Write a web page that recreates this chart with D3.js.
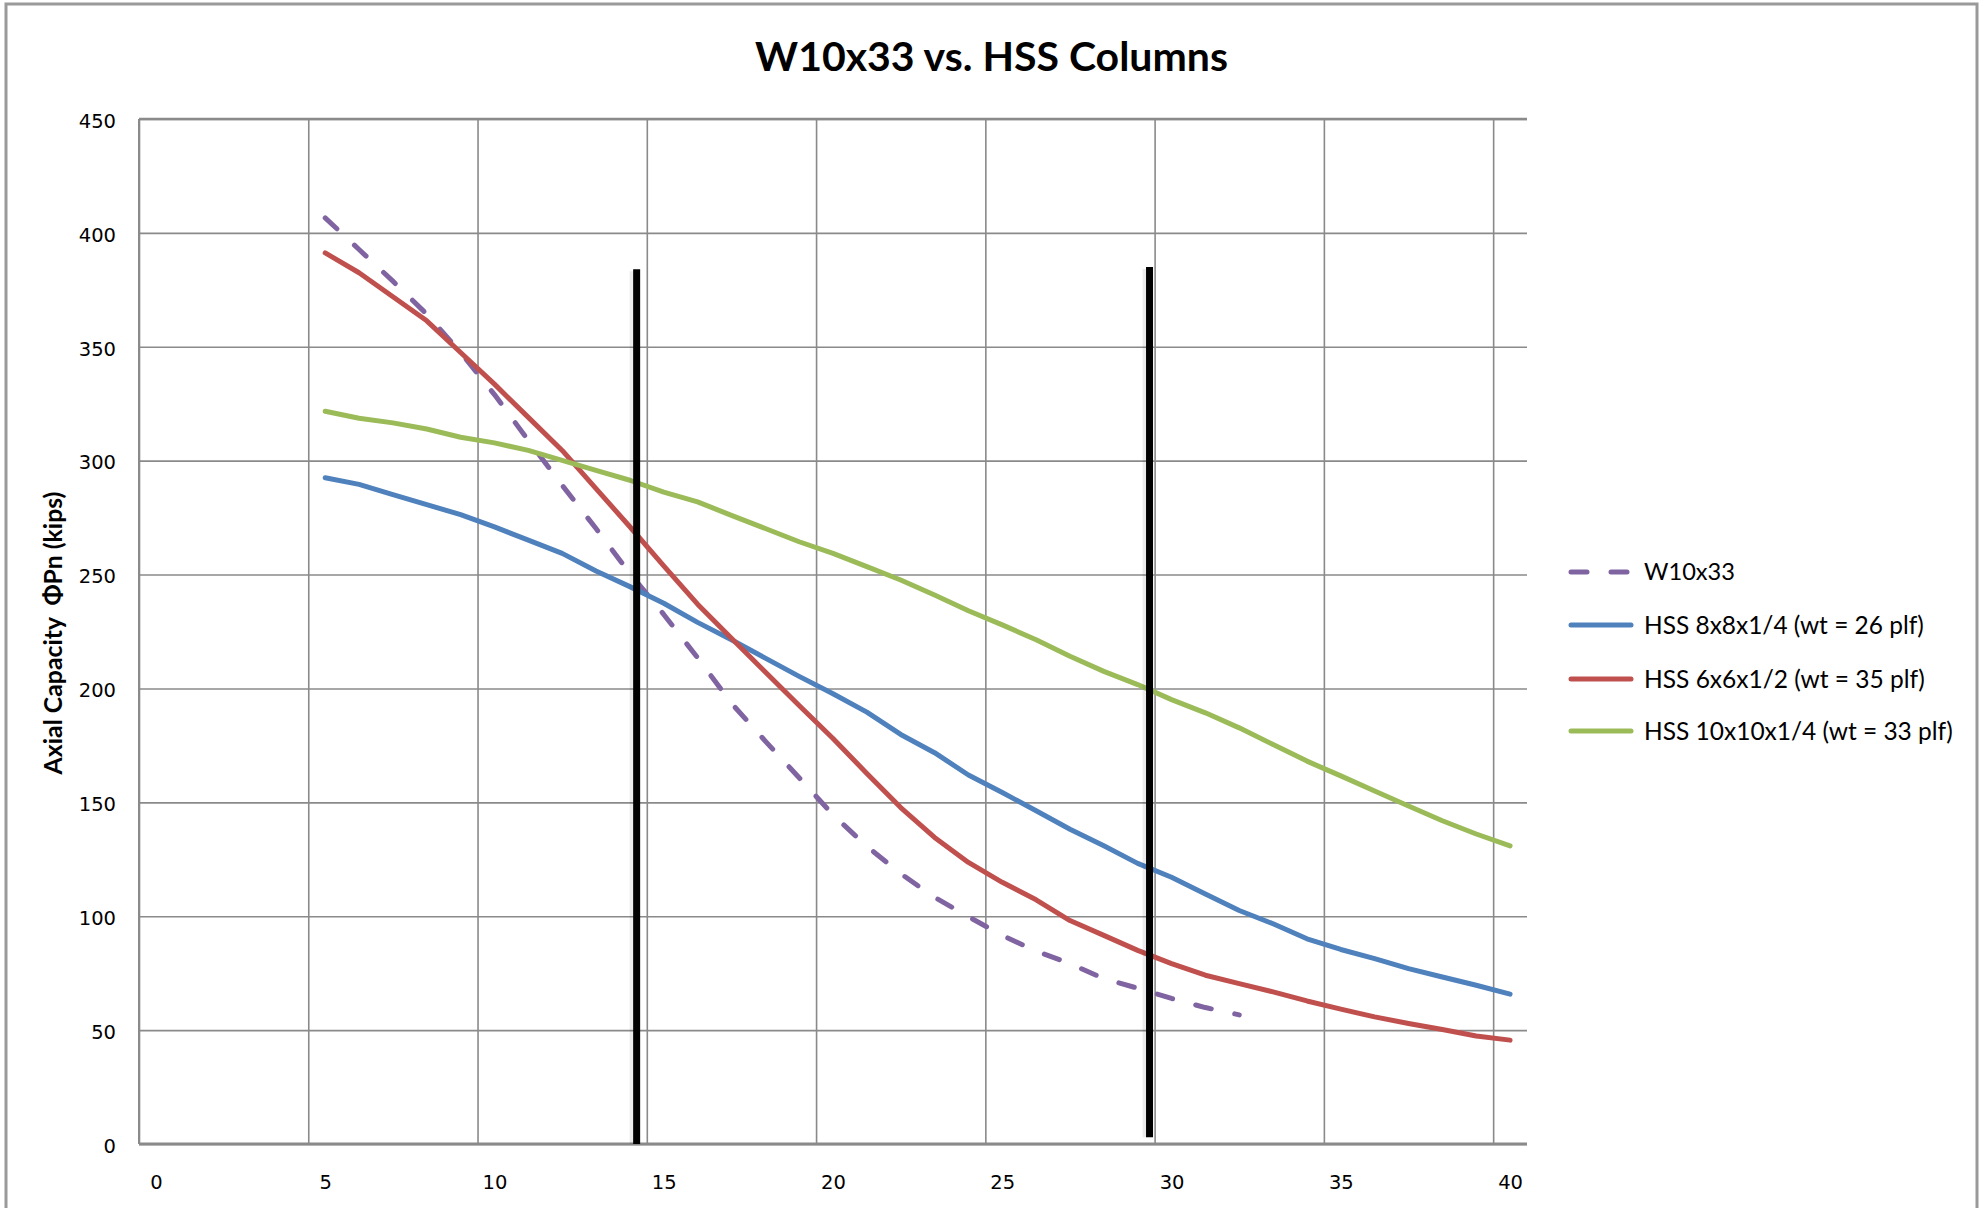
<!DOCTYPE html>
<html>
<head>
<meta charset="utf-8">
<script src="https://cdn.jsdelivr.net/npm/d3@7"></script>
<style>
  html, body { margin: 0; padding: 0; background: #ffffff; }
  svg { display: block; }
</style>
</head>
<body>
<svg id="chart" width="1984" height="1208"></svg>
<script>
// ---------------- DATA ----------------
const chartTitle = "W10x33 vs. HSS Columns";
const yAxisTitle = "Axial Capacity  \u03A6Pn (kips)";
const xTickLabels = [0, 5, 10, 15, 20, 25, 30, 35, 40];
const yTickLabels = [0, 50, 100, 150, 200, 250, 300, 350, 400, 450];

const seriesNames = [
  "W10x33",
  "HSS 8x8x1/4 (wt = 26 plf)",
  "HSS 6x6x1/2 (wt = 35 plf)",
  "HSS 10x10x1/4 (wt = 33 plf)"
];

// categories (unbraced length, ft) for each series
const w10Lengths = d3.range(5, 33);   // 5 .. 32
const hssLengths = d3.range(5, 41);   // 5 .. 40

const w10x33 = [406.6, 392.7, 378.8, 364.3, 347.5, 329.0, 308.9, 289.2, 270.2, 250.5,
  232.5, 213.5, 193.5, 176.9, 160.8, 144.5, 130.7, 118.7, 108.3, 99.8,
  91.6, 84.7, 79.2, 72.6, 68.4, 63.9, 59.9, 56.7];

const hss8x8 = [292.5, 289.6, 285.1, 280.7, 276.3, 270.9, 265.1, 259.3, 251.6, 244.7,
  237.4, 229.0, 221.4, 213.3, 205.3, 197.7, 189.6, 179.8, 171.8, 162.0,
  154.3, 146.3, 138.2, 130.9, 123.2, 117.1, 109.8, 102.5, 96.7, 90.1,
  85.4, 81.4, 77.0, 73.3, 69.7, 65.8];

const hss6x6 = [391.2, 382.5, 372.0, 361.4, 347.5, 333.6, 319.0, 304.5, 287.7, 271.0,
  253.8, 237.0, 222.0, 207.2, 192.5, 178.0, 162.7, 147.7, 134.6, 123.6,
  114.9, 107.2, 98.1, 91.6, 85.0, 79.2, 74.1, 70.4, 66.8, 62.8,
  59.2, 55.8, 52.9, 50.3, 47.4, 45.6];

const hss10x10 = [321.7, 318.6, 316.6, 313.9, 310.3, 307.8, 304.5, 300.1, 295.7, 291.4,
  286.2, 281.9, 276.0, 270.2, 264.4, 259.3, 253.5, 247.6, 241.0, 234.1,
  227.9, 221.4, 214.1, 207.5, 201.7, 195.1, 189.3, 182.7, 175.4, 168.1,
  161.6, 155.0, 148.4, 141.9, 136.1, 130.9];

// hand-drawn black vertical marker lines (position in category units, value range)
const markerX = [14.2, 29.35];
const markerTop = [384, 385];
const markerBottom = [0, 3];

// ---------------- LAYOUT ----------------
const svg = d3.select("#chart");
const plot = { left: 139, right: 1527, top: 119, bottom: 1144 };

const x = d3.scaleLinear().domain([-0.5, 40.5]).range([plot.left, plot.right]);
const y = d3.scaleLinear().domain([0, 450]).range([plot.bottom, plot.top]);

const colors = ["#8064A2", "#4F81BD", "#C0504D", "#9BBB59"];
const gridColor = "#8a8a8a";
const tickFont = "'DejaVu Sans', Verdana, sans-serif";
const textFont = "Lato, 'Noto Sans', 'Open Sans', sans-serif";

function fitWidth(sel, target) {
  const len = sel.node().getComputedTextLength();
  const fs = parseFloat(sel.attr("font-size"));
  sel.attr("font-size", fs * target / len);
}

// outer chart frame
svg.append("rect")
  .attr("x", 6).attr("y", 4)
  .attr("width", 1971).attr("height", 1230)
  .attr("fill", "#ffffff")
  .attr("stroke", "#9a9a9a").attr("stroke-width", 3);

// title
const title = svg.append("text")
  .attr("x", (755 + 1228) / 2).attr("y", 71)
  .attr("text-anchor", "middle")
  .attr("font-family", textFont).attr("font-weight", 700)
  .attr("font-size", 40).attr("fill", "#000")
  .text(chartTitle);
fitWidth(title, 473);

// horizontal gridlines
const yGrid = d3.axisLeft(y).tickValues(yTickLabels).tickSize(-(plot.right - plot.left)).tickFormat("");
svg.append("g")
  .attr("transform", `translate(${plot.left},0)`)
  .call(yGrid)
  .call(g => g.select(".domain").remove())
  .call(g => g.selectAll("line").attr("stroke", gridColor).attr("stroke-width", 1.6));

// vertical gridlines at category boundaries every 5
const xBoundaries = xTickLabels.map(d => d - 0.5);
const xGrid = d3.axisBottom(x).tickValues(xBoundaries).tickSize(-(plot.bottom - plot.top)).tickFormat("");
svg.append("g")
  .attr("transform", `translate(0,${plot.bottom})`)
  .call(xGrid)
  .call(g => g.select(".domain").remove())
  .call(g => g.selectAll("line").attr("stroke", gridColor).attr("stroke-width", 1.6));

// axis lines
svg.append("line")
  .attr("x1", x(-0.5)).attr("x2", x(40.5))
  .attr("y1", y(0)).attr("y2", y(0))
  .attr("stroke", "#8a8a8a").attr("stroke-width", 3);
svg.append("line")
  .attr("x1", x(-0.5)).attr("x2", x(40.5))
  .attr("y1", y(450)).attr("y2", y(450))
  .attr("stroke", "#8a8a8a").attr("stroke-width", 2.4);
svg.append("line")
  .attr("x1", x(-0.5)).attr("x2", x(-0.5))
  .attr("y1", y(0)).attr("y2", y(450))
  .attr("stroke", "#8a8a8a").attr("stroke-width", 2);

// y tick labels
const yAxis = d3.axisLeft(y).tickValues(yTickLabels).tickSize(0).tickPadding(23);
svg.append("g")
  .attr("transform", `translate(${plot.left},2)`)
  .call(yAxis)
  .call(g => g.select(".domain").remove())
  .call(g => g.selectAll("text")
    .attr("font-family", tickFont).attr("font-size", 19.5).attr("fill", "#000"));

// x tick labels (centered on categories)
const xAxis = d3.axisBottom(x).tickValues(xTickLabels).tickSize(0).tickPadding(31);
svg.append("g")
  .attr("transform", `translate(0,${plot.bottom})`)
  .call(xAxis)
  .call(g => g.select(".domain").remove())
  .call(g => g.selectAll("text")
    .attr("font-family", tickFont).attr("font-size", 19.5).attr("fill", "#000"));

// y axis title
const yt = svg.append("text")
  .attr("transform", `translate(62,633) rotate(-90)`)
  .attr("text-anchor", "middle")
  .attr("font-family", textFont).attr("font-weight", 700)
  .attr("font-size", 20).attr("fill", "#000")
  .style("white-space", "pre")
  .text(yAxisTitle);
fitWidth(yt, 283);

// series lines
const seriesData = [
  { name: seriesNames[0], xs: w10Lengths, ys: w10x33, dash: "16,24" },
  { name: seriesNames[1], xs: hssLengths, ys: hss8x8, dash: null },
  { name: seriesNames[2], xs: hssLengths, ys: hss6x6, dash: null },
  { name: seriesNames[3], xs: hssLengths, ys: hss10x10, dash: null }
];

const line = d3.line().x(d => x(d[0])).y(d => y(d[1]));

seriesData.forEach((s, i) => {
  const pts = s.xs.map((v, k) => [v, s.ys[k]]);
  svg.append("path")
    .datum(pts)
    .attr("d", line)
    .attr("fill", "none")
    .attr("stroke", colors[i])
    .attr("stroke-width", 5)
    .attr("stroke-linejoin", "round")
    .attr("stroke-linecap", "round")
    .attr("stroke-dasharray", s.dash);
});

// black marker lines
markerX.forEach((mx, i) => {
  svg.append("line")
    .attr("x1", x(mx) - 3).attr("x2", x(mx) - 3)
    .attr("y1", y(markerTop[i]) + 2).attr("y2", y(markerBottom[i]))
    .attr("stroke", "#000").attr("stroke-opacity", 0.08).attr("stroke-width", 8);
  svg.append("line")
    .attr("x1", x(mx)).attr("x2", x(mx))
    .attr("y1", y(markerTop[i])).attr("y2", y(markerBottom[i]))
    .attr("stroke", "#000").attr("stroke-width", 7);
});

// legend
const legendRows = [572, 625, 679, 731];
const legendWidths = [91, 280, 281, 309];
const legend = svg.append("g");
seriesData.forEach((s, i) => {
  const row = legend.append("g").attr("transform", `translate(0,${legendRows[i]})`);
  row.append("line")
    .attr("x1", 1571).attr("x2", 1631)
    .attr("y1", 0).attr("y2", 0)
    .attr("stroke", colors[i]).attr("stroke-width", 5)
    .attr("stroke-linecap", "round")
    .attr("stroke-dasharray", s.dash ? "16,24" : null);
  const t = row.append("text")
    .attr("x", 1644).attr("y", 0).attr("dy", "0.35em")
    .attr("font-family", textFont).attr("font-size", 25).attr("fill", "#000")
    .text(s.name);
  fitWidth(t, legendWidths[i]);
});
</script>
</body>
</html>
